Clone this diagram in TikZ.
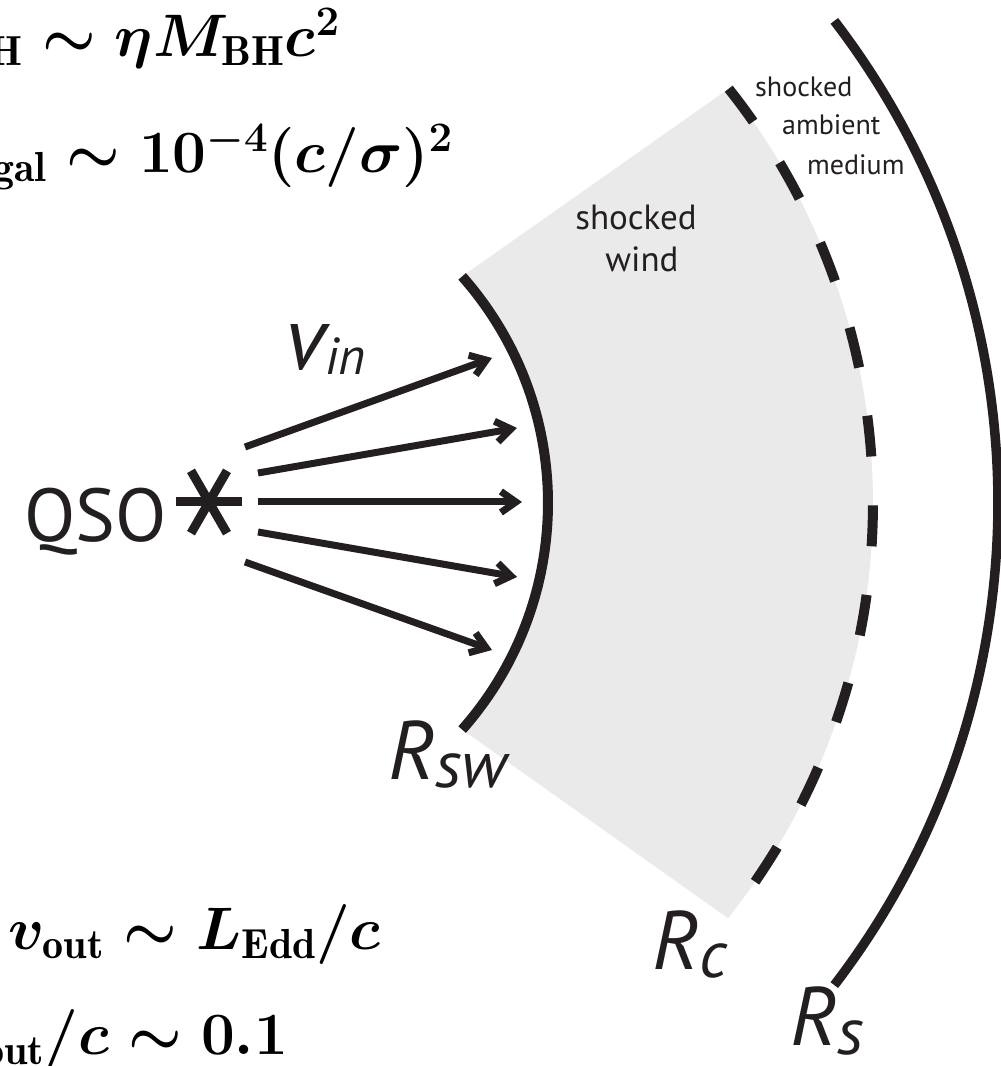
\RequirePackage{fix-cm}
\documentclass[tikz,border=0pt]{standalone}
\usepackage{fontspec}
\newfontfamily\lab{PT Sans}
\usetikzlibrary{arrows.meta,calc}
\definecolor{ink}{RGB}{35,31,32}
\definecolor{shadegray}{RGB}{234,234,234}
\begin{document}
\begin{tikzpicture}[x=1pt,y=1pt,
  shell/.style={draw=ink, line width=10pt},
  ray/.style={draw=ink, line width=7pt, -{Straight Barb[length=15pt,width=21pt]}},
  eqn/.style={inner sep=0pt, anchor=base east, font=\fontsize{60}{60}\selectfont\boldmath},
  lbl/.style={inner sep=0pt, anchor=base west, text=ink},
  small/.style={lbl, font=\lab\fontsize{28}{28}\selectfont},
  mid/.style={lbl, anchor=base, font=\lab\fontsize{35}{35}\selectfont},
  rlab/.style={lbl, text depth=0pt, font=\lab\itshape\fontsize{83}{83}\selectfont},
]
\useasboundingbox (0,0) rectangle (1001,1066);
\clip (0,0) rectangle (1001,1066);
\coordinate (C) at (206,563);

% shocked wind region
\fill[shadegray] ($(C)+(41.5:342pt)$) arc[start angle=41.5, end angle=-41.5, radius=342pt]
  -- ($(C)+(-38.5:667pt)$) arc[start angle=-38.5, end angle=38.4, radius=667pt] -- cycle;

% shells
\draw[shell] ($(C)+(41.5:342pt)$) arc[start angle=41.5, end angle=-41.5, radius=342pt];
\draw[shell, dash pattern=on 41pt off 48.87pt] ($(C)+(38.4:667pt)$) arc[start angle=38.4, end angle=-34.6, radius=667pt];
\draw[shell, line width=9.5pt] ($(C)+(37.5:792pt)$) arc[start angle=37.5, end angle=-37.5, radius=792pt];

% QSO star
\node[inner sep=0pt, minimum size=70pt] (star) at (209,564) {};
\draw[ink, line width=9pt] ($(star.center)+(0:33pt)$) -- ($(star.center)+(180:33pt)$);
\draw[ink, line width=9pt] ($(star.center)+(60:36pt)$) -- ($(star.center)+(240:36pt)$);
\draw[ink, line width=9pt] ($(star.center)+(120:36pt)$) -- ($(star.center)+(300:36pt)$);
\node[lbl, font=\lab\fontsize{75}{75}\selectfont] (qso) at (24,524) {QSO};

% rays
\coordinate (a1s) at (245,619); \coordinate (a1e) at (492,708);
\coordinate (a2s) at (258,593); \coordinate (a2e) at (517,638);
\coordinate (a3s) at (258,564); \coordinate (a3e) at (522,564);
\coordinate (a4s) at (258,534); \coordinate (a4e) at (517,489);
\coordinate (a5s) at (245,504); \coordinate (a5e) at (492,416);
\draw[ray] (a1s) -- (a1e);
\draw[ray] (a2s) -- (a2e);
\draw[ray] (a3s) -- (a3e);
\draw[ray] (a4s) -- (a4e);
\draw[ray] (a5s) -- (a5e);

% labels
\node[lbl, font=\lab\itshape\fontsize{90}{90}\selectfont] (vin) at (285,696) {v\raisebox{-5pt}{\fontsize{52}{52}\selectfont in}};
\node[rlab] (rsw) at (388,286) {R\raisebox{-8pt}[0pt][0pt]{\fontsize{66}{66}\selectfont sw}};
\node[rlab] (rc) at (652,96) {R\raisebox{-8pt}[0pt][0pt]{\fontsize{66}{66}\selectfont c}};
\node[rlab] (rs) at (790,20) {R\raisebox{-8pt}[0pt][0pt]{\fontsize{66}{66}\selectfont s}};
\node[mid] (sw1) at (636,836) {shocked};
\node[mid] (sw2) at (642,794) {wind};
\node[small] (am1) at (755,969) {shocked};
\node[small] (am2) at (782,931) {ambient};
\node[small] (am3) at (807,891) {medium};

% equations
\node[eqn] (e1) at (340,1009) {${}_{\mathrm{BH}}\sim\eta M_{\mathrm{BH}}c^2$};
\node[eqn] (e2) at (453,893) {${}_{\mathrm{gal}}\sim 10^{-4}(c/\sigma)^2$};
\node[eqn] (e3) at (381,116) {$v_{\mathrm{out}}\sim L_{\mathrm{Edd}}/c$};
\node[eqn] (e4) at (288,11) {$v_{\mathrm{out}}/c\sim 0.1$};
\end{tikzpicture}
\end{document}
